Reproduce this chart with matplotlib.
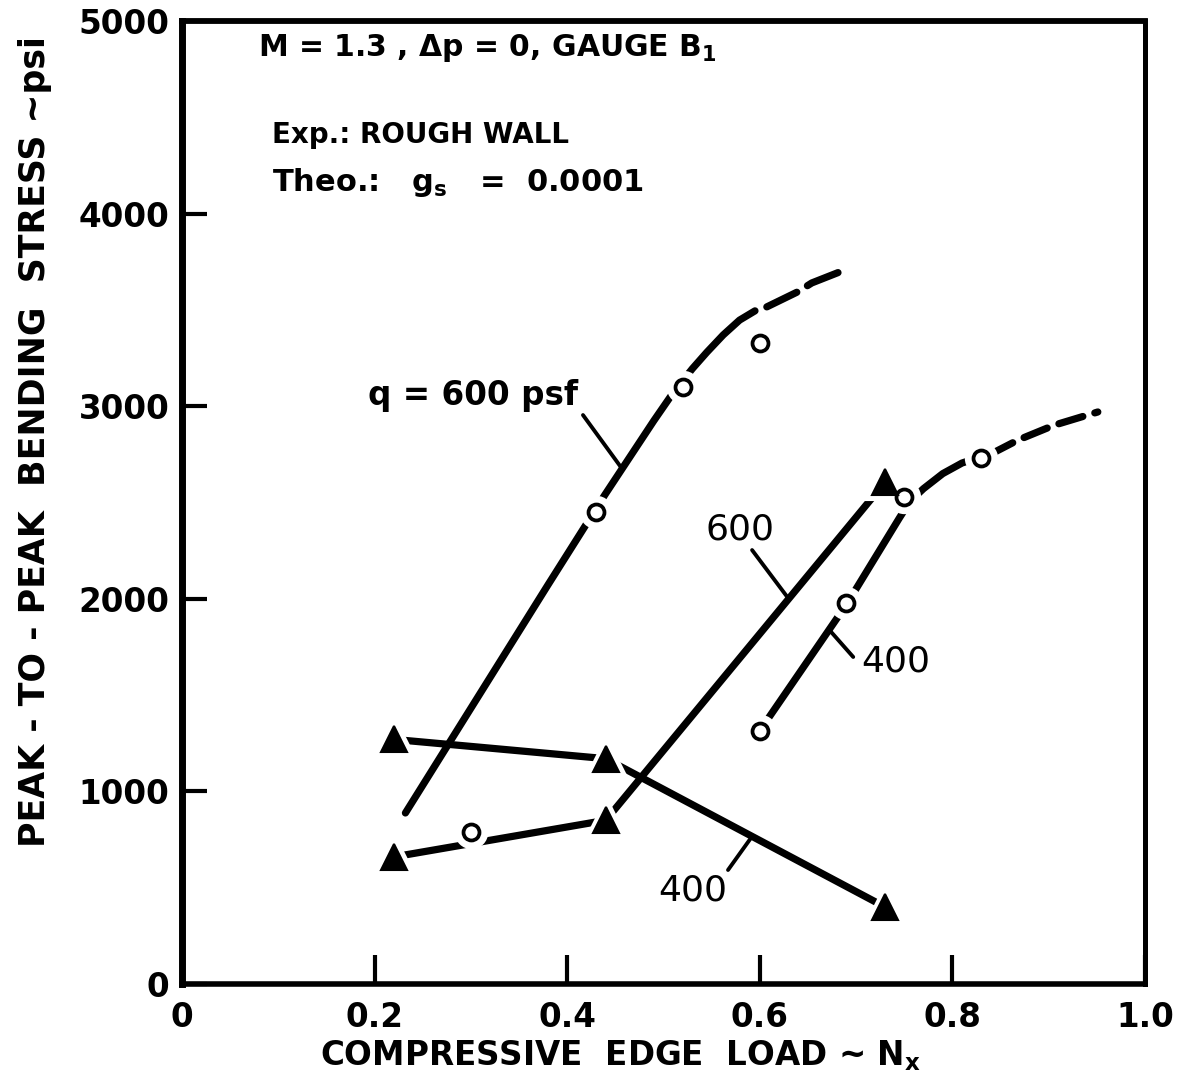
import numpy as np
import matplotlib
matplotlib.use("Agg")
import matplotlib.pyplot as plt

plt.rcParams["font.family"] = ["DejaVu Sans"]
plt.rcParams["lines.scale_dashes"] = False
plt.rcParams["mathtext.fontset"] = "dejavusans"

# Experimental points (open circles)
circle_x = [0.30, 0.43, 0.52, 0.60, 0.60, 0.69, 0.75, 0.83]
circle_y = [790, 2450, 3100, 3330, 1315, 1980, 2530, 2730]

# Experimental points (solid triangles), two dynamic-pressure runs
tri400_x = [0.22, 0.44, 0.73]
tri400_y = [1270, 1170, 400]
tri600_x = [0.22, 0.44, 0.73]
tri600_y = [660, 850, 2605]

# Theory, q = 600 psf
theo600_x = [0.232, 0.380, 0.439, 0.490, 0.507, 0.518, 0.530, 0.545, 0.562,
             0.579, 0.595]
theo600_y = [888, 2072, 2539, 2925, 3048, 3120, 3195, 3280, 3370, 3447, 3495]
theo600_ext_x = [0.595, 0.607, 0.639, 0.654, 0.688]
theo600_ext_y = [3495, 3515, 3593, 3640, 3707]

# Theory, q = 400 psf
theo400_x = [0.600, 0.691, 0.745, 0.752, 0.760, 0.770, 0.790, 0.810, 0.827]
theo400_y = [1315, 1978, 2420, 2475, 2525, 2572, 2650, 2705, 2733]
theo400_ext_x = [0.827, 0.844, 0.868, 0.906, 0.951]
theo400_ext_y = [2733, 2762, 2824, 2902, 2970]

x_ticks = [0, 0.2, 0.4, 0.6, 0.8, 1.0]
x_ticklabels = ["0", "0.2", "0.4", "0.6", "0.8", "1.0"]
y_ticks = [0, 1000, 2000, 3000, 4000, 5000]
y_ticklabels = ["0", "1000", "2000", "3000", "4000", "5000"]

fig = plt.figure(figsize=(11.87, 10.89), dpi=100)
ax = fig.add_axes([182 / 1187, 1 - 984 / 1089, 963 / 1187, 963 / 1089])
ax.set_xlim(0, 1.0)
ax.set_ylim(0, 5000)

LW = 5.2
K = "black"

# theory curves
ax.plot(theo600_x, theo600_y, color=K, lw=LW, solid_capstyle="round",
        solid_joinstyle="round", zorder=2)
ax.plot(theo600_ext_x, theo600_ext_y, color=K, lw=LW, dash_capstyle="round",
        linestyle=(24, (24, 9)), zorder=2)
ax.plot(theo400_x, theo400_y, color=K, lw=LW, solid_capstyle="round",
        solid_joinstyle="round", zorder=2)
ax.plot(theo400_ext_x, theo400_ext_y, color=K, lw=LW, dash_capstyle="round",
        linestyle=(18, (18, 9)), zorder=2)

# triangle fairings
ax.plot(tri400_x, tri400_y, color=K, lw=LW, solid_capstyle="round", zorder=2)
ax.plot(tri600_x, tri600_y, color=K, lw=LW, solid_capstyle="round", zorder=2)

# white clearance around symbols
ax.plot(circle_x, circle_y, "o", ms=24, mfc="white", mec="none", zorder=3)
for tx, ty in ((tri400_x, tri400_y), (tri600_x, tri600_y)):
    ax.plot(tx, ty, "^", ms=19, mfc="white", mec="white", mew=8, zorder=3)

# symbols
ax.plot(circle_x, circle_y, "o", ms=11.5, mfc="white", mec=K, mew=2.7, zorder=4)
for tx, ty in ((tri400_x, tri400_y), (tri600_x, tri600_y)):
    ax.plot(tx, ty, "^", ms=19, mfc=K, mec=K, mew=1.5, zorder=4)

# curve labels with leaders
lead = dict(arrowstyle="-", lw=2.8, color=K, shrinkA=0, shrinkB=0)


def leader(label, text_xy, start, end_x, cx, cy, **kw):
    end = (end_x, float(np.interp(end_x, cx, cy)))
    ax.annotate("", xy=end, xytext=start, arrowprops=lead, zorder=2)
    ax.text(*text_xy, label, color=K, zorder=5, **kw)


leader("q = 600 psf", (0.193, 3053), (0.4164, 2954), 0.457,
       theo600_x, theo600_y, ha="left", va="center", fontsize=23.5,
       fontweight="bold")
leader("600", (0.579, 2362), (0.592, 2253), 0.630,
       tri600_x, tri600_y, ha="center", va="center", fontsize=26)
leader("400", (0.7414, 1677), (0.697, 1698), 0.672,
       theo400_x, theo400_y, ha="center", va="center", fontsize=26)
leader("400", (0.530, 488), (0.567, 592), 0.592,
       tri400_x, tri400_y, ha="center", va="center", fontsize=26)

# test-condition notes
ax.text(0.079, 4860, "M = 1.3 , Δp = 0, GAUGE B$_\\mathbf{1}$", fontsize=21.5,
        fontweight="bold", ha="left", va="center")
ax.text(0.0935, 4408, "Exp.: ROUGH WALL", fontsize=20,
        fontweight="bold", ha="left", va="center")
ax.text(0.0935, 4159, "Theo.:   g$_\\mathbf{s}$   =  0.0001", fontsize=22,
        fontweight="bold", ha="left", va="center")

# axes styling
for side, w in (("left", 5), ("bottom", 4), ("top", 4.2), ("right", 3.6)):
    ax.spines[side].set_linewidth(w)
ax.set_xticks(x_ticks)
ax.set_xticklabels(x_ticklabels)
ax.set_yticks(y_ticks)
ax.set_yticklabels(y_ticklabels)
ax.tick_params(axis="x", direction="in", length=21, width=3, pad=12,
               labelsize=23.5)
ax.tick_params(axis="y", direction="in", length=18, width=3, pad=9,
               labelsize=23.5)
for lab in ax.get_xticklabels() + ax.get_yticklabels():
    lab.set_fontweight("bold")

ax.set_xlabel("COMPRESSIVE  EDGE  LOAD ~ N$_\\mathbf{x}$", fontsize=23.5,
              fontweight="bold", va="center")
ax.xaxis.set_label_coords(0.455, -0.074)
ax.set_ylabel("PEAK - TO - PEAK  BENDING  STRESS ~psi", fontsize=25,
              fontweight="bold", va="center")
ax.yaxis.set_label_coords(-0.153, 0.563)

fig.savefig("out.png", dpi=100, facecolor="white")
